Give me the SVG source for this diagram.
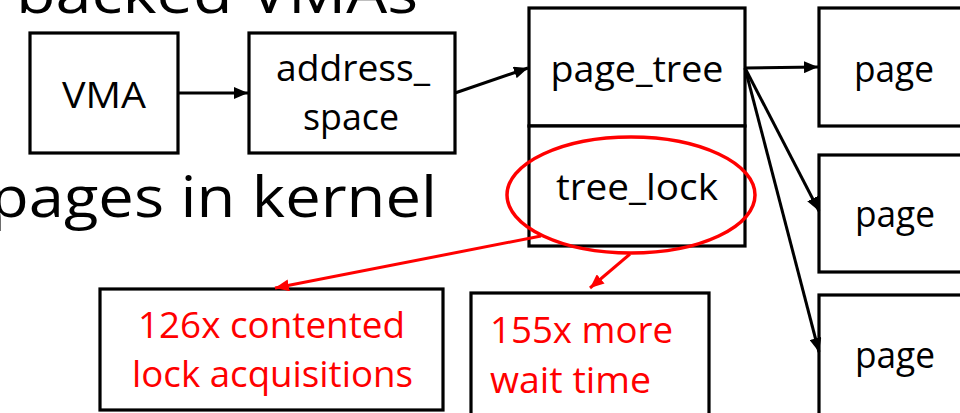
<svg xmlns="http://www.w3.org/2000/svg" width="960" height="413" viewBox="0 0 960 413">
  <style>
    .box { fill: #fff; stroke: #000; stroke-width: 3.2; }
    .lbl { font-family: "Open Sans", "Noto Sans", "Liberation Sans", sans-serif; font-size: 36px; fill: #000; text-anchor: middle; }
    .big { font-family: "Open Sans", "Noto Sans", "Liberation Sans", sans-serif; font-size: 56px; fill: #000; }
    .red { font-family: "Open Sans", "Noto Sans", "Liberation Sans", sans-serif; font-size: 36px; fill: #ff0000; }
    .edge { stroke: #000; stroke-width: 3; fill: none; }
    .redge { stroke: #ff0000; stroke-width: 3; fill: none; }
  </style>
  <defs>
    <marker id="ah" viewBox="0 0 14 12" refX="14" refY="6" markerWidth="14" markerHeight="12" markerUnits="userSpaceOnUse" orient="auto">
      <path d="M0,0 L14,6 L0,12 Z" fill="#000"/>
    </marker>
    <marker id="ahr" viewBox="0 0 14 12" refX="14" refY="6" markerWidth="14" markerHeight="12" markerUnits="userSpaceOnUse" orient="auto">
      <path d="M0,0 L14,6 L0,12 Z" fill="#ff0000"/>
    </marker>
  </defs>

  <rect width="960" height="413" fill="#fff"/>

  <!-- slide text behind the diagram -->
  <text class="big" x="16" y="13" textLength="402" lengthAdjust="spacingAndGlyphs">backed VMAs</text>
  <text class="big" x="-10" y="217" textLength="447" lengthAdjust="spacingAndGlyphs">pages in kernel</text>

  <g id="vma">
    <rect class="box" x="30" y="33" width="148" height="120"/>
    <text class="lbl" x="104" y="108" textLength="84" lengthAdjust="spacingAndGlyphs">VMA</text>
  </g>

  <g id="address-space">
    <rect class="box" x="249" y="33" width="206" height="120"/>
    <text class="lbl" x="353" y="81" textLength="154" lengthAdjust="spacingAndGlyphs">address_</text>
    <text class="lbl" x="351" y="130" textLength="96" lengthAdjust="spacingAndGlyphs">space</text>
  </g>

  <g id="page-tree">
    <rect class="box" x="529" y="8" width="216" height="118"/>
    <text class="lbl" x="637" y="82" textLength="173" lengthAdjust="spacingAndGlyphs">page_tree</text>
  </g>

  <g id="tree-lock">
    <rect class="box" x="529" y="126" width="216" height="120"/>
    <text class="lbl" x="637" y="200" textLength="162" lengthAdjust="spacingAndGlyphs">tree_lock</text>
  </g>

  <g id="page-1">
    <rect class="box" x="819" y="8" width="160" height="118"/>
    <text class="lbl" x="894" y="82" textLength="80" lengthAdjust="spacingAndGlyphs">page</text>
  </g>

  <g id="page-2">
    <rect class="box" x="819" y="155" width="160" height="117"/>
    <text class="lbl" x="895" y="227" textLength="80" lengthAdjust="spacingAndGlyphs">page</text>
  </g>

  <g id="page-3">
    <rect class="box" x="819" y="295" width="160" height="140"/>
    <text class="lbl" x="895" y="368" textLength="80" lengthAdjust="spacingAndGlyphs">page</text>
  </g>

  <g id="contended">
    <rect class="box" x="100" y="289" width="343" height="121"/>
    <text class="red" x="138" y="338" textLength="267" lengthAdjust="spacingAndGlyphs">126x contented</text>
    <text class="red" x="132" y="387" textLength="281" lengthAdjust="spacingAndGlyphs">lock acquisitions</text>
  </g>

  <g id="wait-time">
    <rect class="box" x="471" y="293" width="238" height="140"/>
    <text class="red" x="490" y="343" textLength="183" lengthAdjust="spacingAndGlyphs">155x more</text>
    <text class="red" x="490" y="393" textLength="161" lengthAdjust="spacingAndGlyphs">wait time</text>
  </g>

  <!-- highlight around the lock -->
  <ellipse id="lock-highlight" cx="631" cy="195" rx="124" ry="58" fill="none" stroke="#ff0000" stroke-width="3.5"/>

  <g id="connectors">
    <line class="edge" x1="178" y1="93" x2="248" y2="93" marker-end="url(#ah)"/>
    <line class="edge" x1="455" y1="93" x2="528" y2="68" marker-end="url(#ah)"/>
    <line class="edge" x1="745" y1="68" x2="818" y2="67" marker-end="url(#ah)"/>
    <line class="edge" x1="745" y1="68" x2="819" y2="211" marker-end="url(#ah)"/>
    <line class="edge" x1="745" y1="68" x2="819" y2="352" marker-end="url(#ah)"/>
    <line class="redge" x1="541" y1="236" x2="275" y2="288" marker-end="url(#ahr)"/>
    <line class="redge" x1="630" y1="254" x2="590" y2="288" marker-end="url(#ahr)"/>
  </g>
</svg>
